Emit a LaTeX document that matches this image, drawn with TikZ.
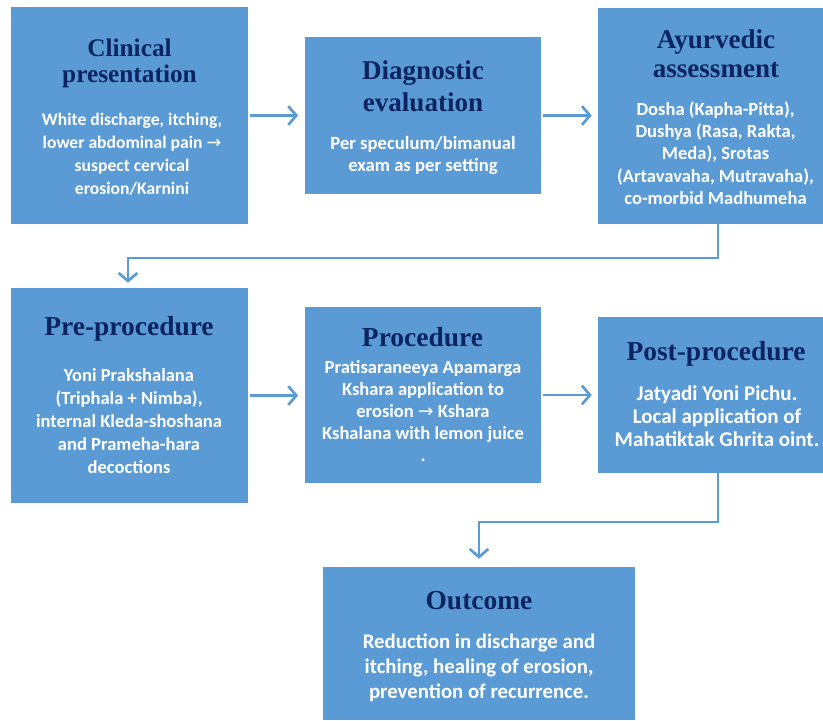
\documentclass[tikz,border=0pt]{standalone}
\usepackage{fontspec}
\setmainfont{Carlito}
\newfontfamily\titlefont{Liberation Serif}
\newfontfamily\symfont{DejaVu Sans}
\usetikzlibrary{arrows.meta}
\definecolor{boxblue}{HTML}{5B9BD5}
\definecolor{navy}{HTML}{0C2461}
\begin{document}
\begin{tikzpicture}[x=0.75pt,y=-0.75pt,
  box/.style={fill=boxblue, draw=none, inner sep=0pt, rectangle},
  ttl/.style={text=navy, anchor=base, align=center, inner sep=0pt},
  bodytxt/.style={text=white, anchor=base, align=center, inner sep=0pt},
  arr/.style={draw=boxblue, line width=2pt, -{Straight Barb[length=6pt,width=14pt]}},
  conn/.style={draw=boxblue, line width=2pt, -{Straight Barb[length=6pt,width=14pt]}}]
\useasboundingbox (0,0) rectangle (823,720);
\fill[white] (0,0) rectangle (823,720);

% boxes
\node[box, minimum width=177.75pt, minimum height=162.75pt] (b1) at (129.5,115.5) {};
\node[box, minimum width=177pt, minimum height=117.75pt] (b2) at (423,115.5) {};
\node[box, minimum width=168.75pt, minimum height=162pt] (b3) at (710.5,116) {};
\node[box, minimum width=177.75pt, minimum height=161.25pt] (b4) at (129.5,395.5) {};
\node[box, minimum width=177pt, minimum height=132pt] (b5) at (423,395) {};
\node[box, minimum width=168.75pt, minimum height=117pt] (b6) at (710.5,395) {};
\node[box, minimum width=234pt, minimum height=114.75pt] (b7) at (479,643.5) {};

% titles (anchor = baseline of the last line)
\node[ttl, font=\titlefont\bfseries\fontsize{19}{19.7}\selectfont] (t1) at (129.5,83) {Clinical\\presentation};
\node[ttl, font=\titlefont\bfseries\fontsize{20.3}{23.8}\selectfont] (t2) at (423,111.7) {Diagnostic\\evaluation};
\node[ttl, font=\titlefont\bfseries\fontsize{20.3}{21.75}\selectfont] (t3) at (716,77.3) {Ayurvedic\\assessment};
\node[ttl, font=\titlefont\bfseries\fontsize{20.6}{22}\selectfont] (t4) at (129,335) {Pre-procedure};
\node[ttl, font=\titlefont\bfseries\fontsize{20.6}{22}\selectfont] (t5) at (422.5,346.7) {Procedure};
\node[ttl, font=\titlefont\bfseries\fontsize{20.6}{22}\selectfont] (t6) at (716,360) {Post-procedure};
\node[ttl, font=\titlefont\bfseries\fontsize{20.6}{22}\selectfont] (t7) at (479,609.3) {Outcome};

% body texts (anchor = baseline of the last line)
\node[bodytxt, font=\bfseries\fontsize{13.2}{17.25}\selectfont] (d1) at (132,195)
  {White discharge, itching,\\lower abdominal pain {\symfont\mdseries →}\\suspect cervical\\erosion/Karnini};
\node[bodytxt, font=\bfseries\fontsize{14}{16.8}\selectfont] (d2) at (423,171.7)
  {Per speculum/bimanual\\exam as per setting};
\node[bodytxt, font=\bfseries\fontsize{13.9}{16.7}\selectfont] (d3) at (715.5,204.3)
  {Dosha (Kapha-Pitta),\\Dushya (Rasa, Rakta,\\Meda), Srotas\\(Artavavaha, Mutravaha),\\co-morbid Madhumeha};
\node[bodytxt, font=\bfseries\fontsize{13.9}{17.25}\selectfont] (d4) at (129,473.3)
  {Yoni Prakshalana\\(Triphala + Nimba),\\internal Kleda-shoshana\\and Prameha-hara\\decoctions};
\node[bodytxt, font=\bfseries\fontsize{13.9}{16.6}\selectfont] (d5) at (423,461.7)
  {Pratisaraneeya Apamarga\\Kshara application to\\erosion {\symfont\mdseries →} Kshara\\Kshalana with lemon juice\\.};
\node[bodytxt, font=\bfseries\fontsize{15.75}{17.5}\selectfont] (d6) at (717,446.7)
  {Jatyadi Yoni Pichu.\\Local application of\\Mahatiktak Ghrita oint.};
\node[bodytxt, font=\bfseries\fontsize{15.6}{18.75}\selectfont] (d7) at (479,698.3)
  {Reduction in discharge and\\itching, healing of erosion,\\prevention of recurrence.};

% straight arrows
\draw[arr, shorten <=1.5pt, shorten >=5pt] (b1.east) -- (b1.east -| b2.west);
\draw[arr, shorten <=1.5pt, shorten >=4.5pt] (b2.east) -- (b2.east -| b3.west);
\draw[arr, shorten <=1.5pt, shorten >=5pt] (b4.east) -- (b4.east -| b5.west);
\draw[arr, shorten <=1.5pt, shorten >=4.5pt] (b5.east) -- (b5.east -| b6.west);

% elbow connectors
\coordinate (k1) at (718,258);
\coordinate (k2) at (128,258);
\draw[conn, shorten >=3.75pt] (b3.south -| k1) -- (k1) -- (k2) -- (k2 |- b4.north);
\coordinate (k3) at (718,522);
\coordinate (k4) at (479,522);
\draw[conn, shorten >=6pt] (b6.south -| k3) -- (k3) -- (k4) -- (k4 |- b7.north);
\end{tikzpicture}
\end{document}
